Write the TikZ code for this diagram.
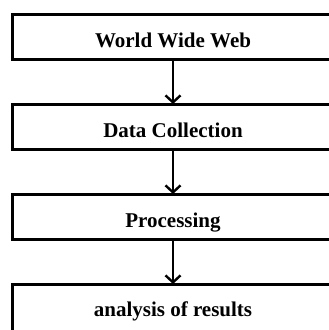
\documentclass[tikz,border=0pt]{standalone}
\usepackage{fontspec}
\setmainfont{Liberation Serif}
\usetikzlibrary{arrows.meta}
\begin{document}
\begin{tikzpicture}[x=1pt,y=1pt,
  box/.style={draw=black, line width=3pt, fill=white, minimum width=322pt, minimum height=45pt, inner sep=0pt, outer sep=0pt},
  lbl/.style={anchor=base, inner sep=0pt, font=\fontsize{21}{24}\selectfont\bfseries},
  conn/.style={line width=2.6pt, -{Straight Barb[length=7pt,width=15pt,line width=2.4pt]}}]
\useasboundingbox (0,0) rectangle (329,-330);
\clip (0,0) rectangle (329,-330);
\fill[white] (0,0) rectangle (329,-330);
\node[box] (b1) at (173,-36.5) {};
\node[box] (b2) at (173,-126.5) {};
\node[box] (b3) at (173,-216.5) {};
\node[box, minimum height=50pt] (b4) at (173,-309) {};
\node[lbl] (t1) at (173,-47) {World Wide Web};
\node[lbl] (t2) at (173,-137) {Data Collection};
\node[lbl] (t3) at (173,-227) {Processing};
\node[lbl] (t4) at (173,-316) {analysis of results};
\draw[conn] (b1.south) -- (b2.north);
\draw[conn] (b2.south) -- (b3.north);
\draw[conn] (b3.south) -- (b4.north);
\end{tikzpicture}
\end{document}
